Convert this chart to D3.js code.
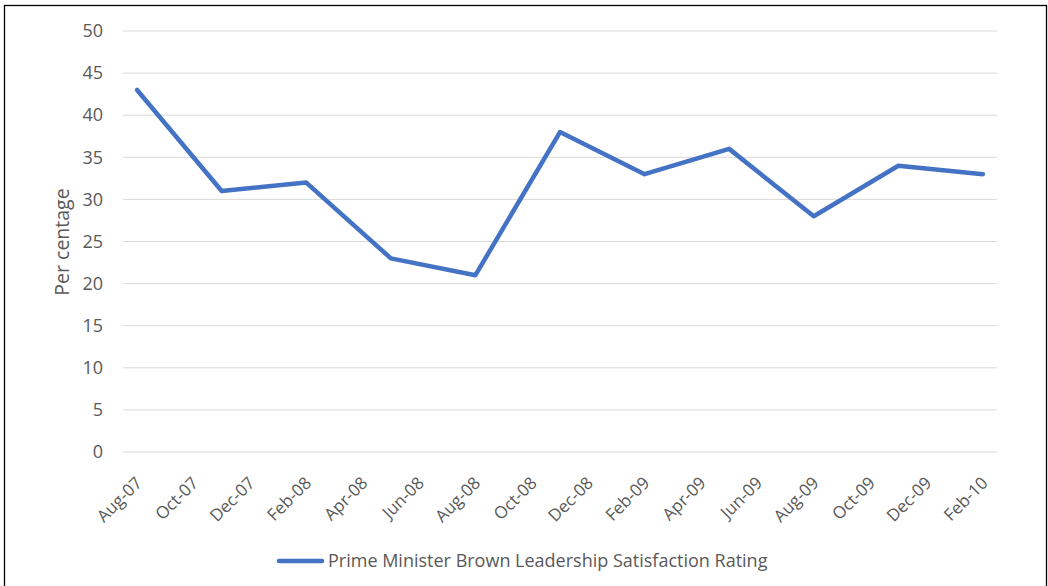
<!DOCTYPE html>
<html>
<head>
<meta charset="utf-8">
<script src="https://cdn.jsdelivr.net/npm/d3@7"></script>
<style>
  body { margin: 0; background: #fff; }
  svg { display: block; }
  svg text { font-family: "Open Sans", "Noto Sans", sans-serif; }
</style>
</head>
<body>
<div id="chart"></div>
<script>
// month slots on the date axis (Excel date axis, base unit = month)
const months = [
  'Aug-07', 'Sep-07', 'Oct-07', 'Nov-07', 'Dec-07', 'Jan-08', 'Feb-08', 'Mar-08',
  'Apr-08', 'May-08', 'Jun-08', 'Jul-08', 'Aug-08', 'Sep-08', 'Oct-08', 'Nov-08',
  'Dec-08', 'Jan-09', 'Feb-09', 'Mar-09', 'Apr-09', 'May-09', 'Jun-09', 'Jul-09',
  'Aug-09', 'Sep-09', 'Oct-09', 'Nov-09', 'Dec-09', 'Jan-10', 'Feb-10'
];
const tickLabels = months.filter((m, i) => i % 2 === 0);

const pollMonths = ['Aug-07', 'Nov-07', 'Feb-08', 'May-08', 'Aug-08', 'Nov-08',
                    'Feb-09', 'May-09', 'Aug-09', 'Nov-09', 'Feb-10'];
const satisfaction = [43, 31, 32, 23, 21, 38, 33, 36, 28, 34, 33];

const yTicks = [0, 5, 10, 15, 20, 25, 30, 35, 40, 45, 50];
const seriesName = 'Prime Minister Brown Leadership Satisfaction Rating';

const W = 1048, H = 586;
const margin = { top: 31, right: 51, bottom: 134, left: 123 };
const width = W - margin.left - margin.right;
const height = H - margin.top - margin.bottom;
const textColor = '#595959';

const svg = d3.select('#chart').append('svg')
  .attr('width', W)
  .attr('height', H);

// outer frame
svg.append('rect')
  .attr('x', 4.5).attr('y', 5.5)
  .attr('width', 1042).attr('height', 600)
  .attr('fill', 'none')
  .attr('stroke', '#000')
  .attr('stroke-width', 1.3);

const g = svg.append('g')
  .attr('transform', `translate(${margin.left},${margin.top})`);

const x = d3.scaleBand().domain(months).range([0, width]).padding(0);
const y = d3.scaleLinear().domain([0, 50]).range([height, 0]);

// gridlines
g.append('g')
  .selectAll('line')
  .data(yTicks)
  .enter()
  .append('line')
  .attr('x1', 0).attr('x2', width)
  .attr('y1', d => y(d)).attr('y2', d => y(d))
  .attr('stroke', '#d9d9d9')
  .attr('stroke-width', 1);

// y axis labels
const yAxis = g.append('g')
  .call(d3.axisLeft(y).tickValues(yTicks).tickSize(0).tickPadding(20));
yAxis.select('.domain').remove();
yAxis.selectAll('text')
  .attr('fill', textColor)
  .style('font-size', '18px');

// x axis labels
const xAxis = g.append('g')
  .attr('transform', `translate(0,${height})`)
  .call(d3.axisBottom(x).tickValues(tickLabels).tickSize(0));
xAxis.select('.domain').remove();
xAxis.selectAll('text')
  .attr('fill', textColor)
  .style('font-size', '17px')
  .attr('text-anchor', 'end')
  .attr('x', 0)
  .attr('y', 0)
  .attr('dy', '0.75em')
  .attr('transform', 'translate(-3,23) rotate(-45)');

// y axis title
g.append('text')
  .attr('transform', 'rotate(-90)')
  .attr('x', -(242 - margin.top))
  .attr('y', -margin.left + 69)
  .attr('text-anchor', 'middle')
  .attr('fill', textColor)
  .style('font-size', '19.5px')
  .text('Per centage');

// series line
const line = d3.line()
  .x((d, i) => x(pollMonths[i]) + x.bandwidth() / 2)
  .y(d => y(d));

g.append('path')
  .datum(satisfaction)
  .attr('d', line)
  .attr('fill', 'none')
  .attr('stroke', '#4472C4')
  .attr('stroke-width', 4.5)
  .attr('stroke-linejoin', 'round')
  .attr('stroke-linecap', 'round');

// legend
const legend = svg.append('g').attr('transform', 'translate(277,561)');
legend.append('line')
  .attr('x1', 2).attr('x2', 45)
  .attr('y1', 0).attr('y2', 0)
  .attr('stroke', '#4472C4')
  .attr('stroke-width', 4.5)
  .attr('stroke-linecap', 'round');
legend.append('text')
  .attr('x', 51)
  .attr('y', 0)
  .attr('dy', '0.35em')
  .attr('fill', textColor)
  .style('font-size', '18px')
  .text(seriesName);
</script>
</body>
</html>
